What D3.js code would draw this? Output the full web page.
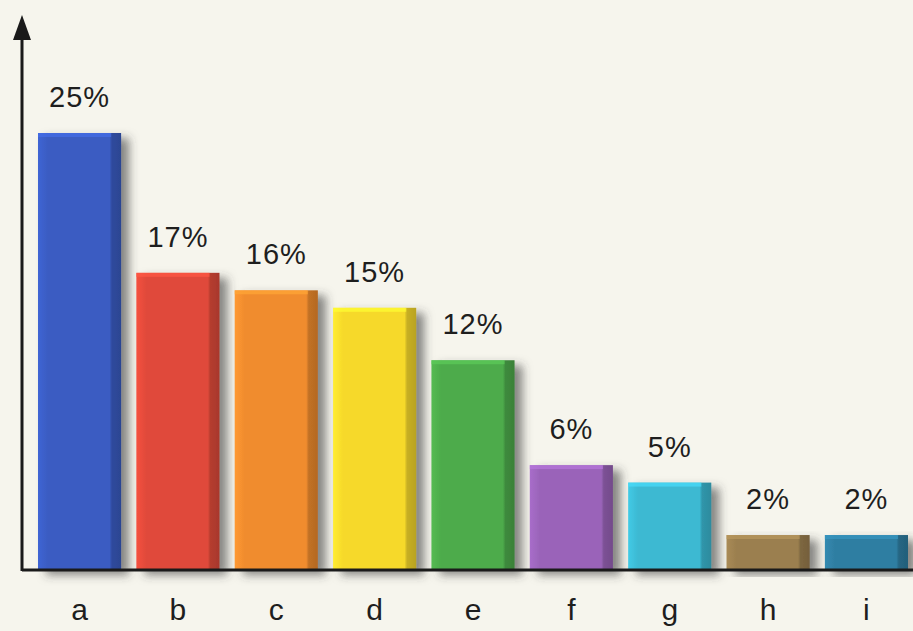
<!DOCTYPE html>
<html>
<head>
<meta charset="utf-8">
<script src="https://d3js.org/d3.v7.min.js"></script>
<style>
  body { margin: 0; background: #f6f5ed; }
  svg { display: block; }
</style>
</head>
<body>
<svg width="913" height="631"></svg>
<script>
// data
var categories = ["a", "b", "c", "d", "e", "f", "g", "h", "i"];
var values = [25, 17, 16, 15, 12, 6, 5, 2, 2];
var colors = ["#3a5cc2", "#e04a3a", "#f08c2e", "#f6d92b", "#4dab4b", "#9a64b9", "#3cb9d2", "#9b7f4f", "#2f7ea2"];

var svg = d3.select("svg"),
    W = +svg.attr("width"),
    H = +svg.attr("height"),
    baseY = 570,
    axisX0 = 22;

var x = d3.scaleBand()
    .domain(categories)
    .range([38, 908])
    .paddingInner(0.155)
    .paddingOuter(0);

var y = d3.scaleLinear()
    .domain([0, 25])
    .range([baseY, 133]);

var defs = svg.append("defs");

// soft shadow on right / bottom of each bar
var shadow = defs.append("filter")
    .attr("id", "shadow")
    .attr("x", "-20%").attr("y", "-10%")
    .attr("width", "160%").attr("height", "130%");
shadow.append("feDropShadow")
    .attr("dx", 8).attr("dy", 5)
    .attr("stdDeviation", 5)
    .attr("flood-color", "#3a3a3a")
    .attr("flood-opacity", 0.6);

// one gradient per bar: lighter left, darker right edge
categories.forEach(function (c, i) {
    var col = d3.color(colors[i]);
    var grad = defs.append("linearGradient")
        .attr("id", "g-" + c)
        .attr("x1", "0%").attr("x2", "100%")
        .attr("y1", "0%").attr("y2", "0%");
    grad.append("stop").attr("offset", "0%").attr("stop-color", col.brighter(0.25));
    grad.append("stop").attr("offset", "12%").attr("stop-color", col);
    grad.append("stop").attr("offset", "86%").attr("stop-color", col);
    grad.append("stop").attr("offset", "89%").attr("stop-color", col.darker(0.6));
    grad.append("stop").attr("offset", "100%").attr("stop-color", col.darker(0.8));
});

// bars
var bars = svg.append("g").attr("class", "bars");

bars.selectAll("rect.bar")
    .data(categories)
    .enter().append("rect")
    .attr("class", "bar")
    .attr("x", function (d) { return x(d); })
    .attr("y", function (d, i) { return y(values[i]); })
    .attr("width", x.bandwidth())
    .attr("height", function (d, i) { return baseY - y(values[i]); })
    .attr("fill", function (d) { return "url(#g-" + d + ")"; })
    .attr("filter", "url(#shadow)");

// light bevel on top edge
bars.selectAll("rect.top")
    .data(categories)
    .enter().append("rect")
    .attr("class", "top")
    .attr("x", function (d) { return x(d); })
    .attr("y", function (d, i) { return y(values[i]); })
    .attr("width", x.bandwidth() * 0.88)
    .attr("height", 4)
    .attr("fill", function (d, i) { return d3.color(colors[i]).brighter(0.5); })
    .attr("opacity", 0.7);

// value labels
svg.append("g")
    .selectAll("text")
    .data(categories)
    .enter().append("text")
    .attr("x", function (d) { return x(d) + x.bandwidth() / 2; })
    .attr("y", function (d, i) { return y(values[i]) - 26; })
    .attr("text-anchor", "middle")
    .attr("font-family", "'Liberation Sans', Arial, sans-serif")
    .attr("font-size", 29)
    .attr("letter-spacing", 1)
    .attr("fill", "#1e1e1e")
    .text(function (d, i) { return values[i] + "%"; });

// category labels
svg.append("g")
    .selectAll("text")
    .data(categories)
    .enter().append("text")
    .attr("x", function (d) { return x(d) + x.bandwidth() / 2; })
    .attr("y", 620)
    .attr("text-anchor", "middle")
    .attr("font-family", "'Liberation Sans', Arial, sans-serif")
    .attr("font-size", 30)
    .attr("fill", "#1e1e1e")
    .text(function (d) { return d; });

// axes: baseline and vertical arrow
svg.append("line")
    .attr("x1", axisX0).attr("x2", W)
    .attr("y1", baseY).attr("y2", baseY)
    .attr("stroke", "#1a1a1a")
    .attr("stroke-width", 3);

svg.append("line")
    .attr("x1", axisX0).attr("x2", axisX0)
    .attr("y1", baseY + 1).attr("y2", 36)
    .attr("stroke", "#1a1a1a")
    .attr("stroke-width", 3);

svg.append("path")
    .attr("d", d3.line()([[axisX0, 15], [axisX0 - 9, 40], [axisX0 + 9, 40]]) + "Z")
    .attr("fill", "#1a1a1a");
</script>
</body>
</html>
